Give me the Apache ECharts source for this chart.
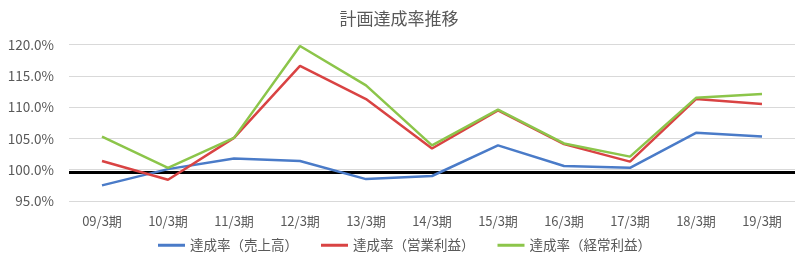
<!DOCTYPE html>
<html>
<head>
<meta charset="utf-8">
<script src="https://cdn.jsdelivr.net/npm/echarts@6/dist/echarts.min.js"></script>
<style>
html,body{margin:0;padding:0;background:#fff;}
#chart{width:798px;height:269px;}
</style>
</head>
<body>
<div id="chart"></div>
<script>
const titleText = '計画達成率推移';
const categories = ['09/3期','10/3期','11/3期','12/3期','13/3期','14/3期','15/3期','16/3期','17/3期','18/3期','19/3期'];
const seriesNames = ['達成率（売上高）','達成率（営業利益）','達成率（経常利益）'];
const salesRate = [97.5, 100.1, 101.8, 101.4, 98.5, 99.0, 103.9, 100.6, 100.3, 105.9, 105.3];
const opProfitRate = [101.4, 98.4, 105.1, 116.6, 111.3, 103.4, 109.5, 104.1, 101.3, 111.3, 110.5];
const ordProfitRate = [105.3, 100.3, 105.1, 119.8, 113.5, 103.9, 109.6, 104.2, 102.1, 111.5, 112.1];
const targetLine = 99.6;
const yTicks = {min: 95, max: 120, interval: 5};

const colors = ['#4A7BC8', '#D94343', '#8CC54A'];
const font = '"Noto Sans CJK JP", "Noto Sans", sans-serif';
const gray = '#595959';

const chart = echarts.init(document.getElementById('chart'), null, {renderer: 'canvas'});
const mk = (name, data, color, withMark) => {
  const s = {
    name, type: 'line', data, symbol: 'none', smooth: false,
    lineStyle: {color, width: 2.5}, itemStyle: {color},
    z: 3
  };
  if (withMark) {
    s.markLine = {
      silent: true, symbol: 'none', label: {show: false},
      lineStyle: {color: '#000', width: 3, type: 'solid'},
      data: [{yAxis: targetLine}],
      z: 2
    };
  }
  return s;
};
chart.setOption({
  animation: false,
  textStyle: {fontFamily: font},
  title: {
    text: titleText, left: 'center', top: 5,
    textStyle: {fontSize: 17, fontWeight: 'normal', color: gray, fontFamily: font}
  },
  grid: {left: 69, right: 3, top: 44.7, bottom: 68, containLabel: false},
  legend: {
    bottom: 12, left: 153,
    itemWidth: 27, itemHeight: 3, itemGap: 23, icon: 'rect',
    textStyle: {fontSize: 13.5, color: gray, fontFamily: font},
    data: seriesNames
  },
  xAxis: {
    type: 'category', data: categories, boundaryGap: true,
    axisLine: {show: false}, axisTick: {show: false},
    axisLabel: {color: gray, fontSize: 13, margin: 14, fontFamily: font}
  },
  yAxis: {
    type: 'value', min: yTicks.min, max: yTicks.max, interval: yTicks.interval,
    axisLine: {show: false}, axisTick: {show: false},
    splitLine: {lineStyle: {color: '#D9D9D9', width: 1}},
    axisLabel: {color: gray, fontSize: 13.5, margin: 15, fontFamily: font,
      formatter: v => v.toFixed(1) + '%'}
  },
  series: [
    mk(seriesNames[0], salesRate, colors[0], true),
    mk(seriesNames[1], opProfitRate, colors[1], false),
    mk(seriesNames[2], ordProfitRate, colors[2], false)
  ]
});
</script>
</body>
</html>
